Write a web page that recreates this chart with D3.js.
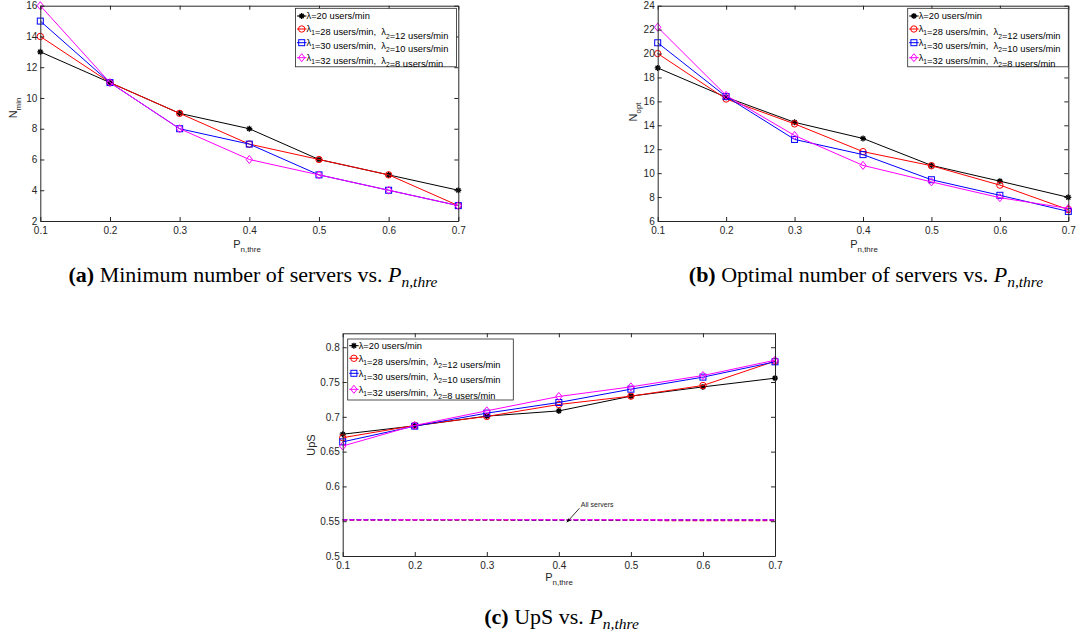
<!DOCTYPE html>
<html>
<head>
<meta charset="utf-8">
<script src="https://cdn.jsdelivr.net/npm/d3@7"></script>
<style>
  body { margin: 0; background: #fff; }
  text { white-space: pre; }
</style>
</head>
<body>
<script>
const pThre = [0.1, 0.2, 0.3, 0.4, 0.5, 0.6, 0.7];

const legendLabels = [
  'λ=20 users/min',
  'λ_1=28 users/min,  λ_2=12 users/min',
  'λ_1=30 users/min,  λ_2=10 users/min',
  'λ_1=32 users/min,  λ_2=8 users/min'
];
const colors = ['#000000', '#ff0000', '#0000ff', '#ff00ff'];
const markers = ['star', 'circle', 'square', 'diamond'];

// (a) minimum number of servers
const nMin20 = [13, 11, 9, 8, 6, 5, 4];
const nMin28 = [14, 11, 9, 7, 6, 5, 3];
const nMin30 = [15, 11, 8, 7, 5, 4, 3];
const nMin32 = [16, 11, 8, 6, 5, 4, 3];
const nMinTicks = [2, 4, 6, 8, 10, 12, 14, 16];

// (b) optimal number of servers
const nOpt20 = [18.8, 16.35, 14.25, 12.9, 10.65, 9.33, 7.98];
const nOpt28 = [20.0, 16.2, 14.12, 11.8, 10.62, 9.0, 6.95];
const nOpt30 = [20.9, 16.4, 12.82, 11.55, 9.45, 8.15, 6.8];
const nOpt32 = [22.2, 16.5, 13.15, 10.65, 9.27, 7.95, 7.05];
const nOptTicks = [6, 8, 10, 12, 14, 16, 18, 20, 22, 24];

// (c) UpS
const ups20 = [0.675, 0.687, 0.701, 0.7085, 0.7297, 0.743, 0.7555];
const ups28 = [0.670, 0.6876, 0.7005, 0.7177, 0.7297, 0.745, 0.780];
const ups30 = [0.664, 0.6866, 0.7053, 0.7206, 0.7397, 0.757, 0.779];
const ups32 = [0.658, 0.6876, 0.7086, 0.7292, 0.743, 0.7593, 0.7813];
// "All servers" reference levels
const upsAll20 = [0.552, 0.552, 0.552, 0.552, 0.552, 0.552, 0.552];
const upsAll28 = [0.5518, 0.5518, 0.5518, 0.5516, 0.5512, 0.5508, 0.5508];
const upsAll30 = [0.5523, 0.5523, 0.5522, 0.552, 0.552, 0.552, 0.552];
const upsAll32 = [0.5519, 0.5521, 0.5523, 0.5523, 0.5521, 0.552, 0.552];
const upsTicks = [0.5, 0.55, 0.6, 0.65, 0.7, 0.75, 0.8];

const width = 1085;
const height = 635;
const axisColor = '#262626';
const sans = 'Liberation Sans, Arial, sans-serif';

const svg = d3.select('body').append('svg')
  .attr('width', width)
  .attr('height', height);

// text with _x or _{xyz} subscripts
function richText(sel, str, size) {
  const re = /_\{([^}]*)\}|_(.)/g;
  let last = 0, m;
  const shift = size * 0.35;
  while ((m = re.exec(str)) !== null) {
    if (m.index > last) sel.append('tspan').text(str.slice(last, m.index));
    sel.append('tspan').attr('dy', shift).attr('font-size', size * 0.72).text(m[1] || m[2]);
    sel.append('tspan').attr('dy', -shift).text('');
    last = re.lastIndex;
  }
  if (last < str.length) sel.append('tspan').text(str.slice(last));
  return sel;
}

function drawMarker(g, type, color, cx, cy) {
  if (type === 'star') {
    const r = 3;
    let d = '';
    for (let k = 0; k < 4; k++) {
      const a = k * Math.PI / 4;
      d += `M${cx - r * Math.cos(a)},${cy - r * Math.sin(a)}L${cx + r * Math.cos(a)},${cy + r * Math.sin(a)}`;
    }
    g.append('path').attr('d', d).attr('stroke', color).attr('stroke-width', 1.3);
    g.append('circle').attr('cx', cx).attr('cy', cy).attr('r', 1.6).attr('fill', color);
  } else if (type === 'circle') {
    g.append('circle').attr('cx', cx).attr('cy', cy).attr('r', 3.2)
      .attr('fill', 'none').attr('stroke', color).attr('stroke-width', 1);
  } else if (type === 'square') {
    g.append('rect').attr('x', cx - 3).attr('y', cy - 3).attr('width', 6).attr('height', 6)
      .attr('fill', 'none').attr('stroke', color).attr('stroke-width', 1);
  } else {
    g.append('path').attr('d', `M${cx},${cy - 4}L${cx + 3.2},${cy}L${cx},${cy + 4}L${cx - 3.2},${cy}Z`)
      .attr('fill', 'none').attr('stroke', color).attr('stroke-width', 1);
  }
}

function drawPanel(p) {
  const x = d3.scaleLinear().domain([0.1, 0.7]).range([p.left, p.right]);
  const y = d3.scaleLinear().domain(p.yDomain).range([p.bottom, p.top]);
  const g = svg.append('g');

  const line = d3.line().x((d, i) => x(pThre[i])).y(d => y(d));

  // dashed reference lines (panel c)
  (p.dashed || []).forEach((vals, k) => {
    g.append('path')
      .attr('d', line(vals))
      .attr('fill', 'none')
      .attr('stroke', colors[k])
      .attr('stroke-width', 1.3)
      .attr('stroke-dasharray', '4.5,2.5');
  });

  p.series.forEach((vals, k) => {
    g.append('path')
      .attr('d', line(vals))
      .attr('fill', 'none')
      .attr('stroke', colors[k])
      .attr('stroke-width', 1);
    vals.forEach((v, i) => drawMarker(g, markers[k], colors[k], x(pThre[i]), y(v)));
  });

  // axes, MATLAB style box with inward ticks
  const fmt = p.fmt || (d => d);
  const axes = [
    [d3.axisBottom(x).tickValues(pThre).tickFormat(d => d).tickPadding(6), `translate(0,${p.bottom})`],
    [d3.axisTop(x).tickValues(pThre).tickFormat(''), `translate(0,${p.top})`],
    [d3.axisLeft(y).tickValues(p.yTicks).tickFormat(fmt).tickPadding(3), `translate(${p.left},0)`],
    [d3.axisRight(y).tickValues(p.yTicks).tickFormat(''), `translate(${p.right},0)`]
  ];
  axes.forEach(([ax, tr]) => {
    const a = g.append('g')
      .attr('transform', tr)
      .call(ax.tickSizeInner(-4).tickSizeOuter(0));
    a.select('.domain').attr('stroke', axisColor);
    a.selectAll('.tick line').attr('stroke', axisColor);
    a.selectAll('.tick text')
      .attr('fill', axisColor)
      .attr('font-family', sans)
      .attr('font-size', 10);
  });

  // axis titles
  richText(g.append('text')
    .attr('x', p.xLabel[0]).attr('y', p.xLabel[1])
    .attr('text-anchor', 'middle')
    .attr('font-family', sans)
    .attr('font-size', 11)
    .attr('fill', axisColor), 'P_{n,thre}', 11);

  richText(g.append('text')
    .attr('transform', `translate(${p.yLabel[0]},${p.yLabel[1]}) rotate(-90)`)
    .attr('text-anchor', 'middle')
    .attr('font-family', sans)
    .attr('font-size', 11)
    .attr('fill', axisColor), p.yTitle, 11);

  // legend
  const lg = g.append('g').attr('transform', `translate(${p.legend[0]},${p.legend[1]})`);
  lg.append('rect')
    .attr('width', p.legend[2]).attr('height', p.legend[3])
    .attr('fill', '#fff').attr('stroke', axisColor).attr('stroke-width', 0.8);
  legendLabels.forEach((lab, k) => {
    const cy = p.legendRows[k];
    lg.append('line').attr('x1', 1.5).attr('x2', 11).attr('y1', cy).attr('y2', cy)
      .attr('stroke', colors[k]).attr('stroke-width', 1);
    drawMarker(lg, markers[k], colors[k], 6.2, cy);
    richText(lg.append('text')
      .attr('x', 11).attr('y', cy + 3.2)
      .attr('font-family', sans)
      .attr('font-size', 9.3)
      .attr('fill', '#000'), lab, 9.3);
  });

  // caption
  const cap = g.append('text')
    .attr('x', p.caption[0]).attr('y', p.caption[1])
    .attr('text-anchor', 'middle')
    .attr('font-family', 'Liberation Serif, DejaVu Serif, serif')
    .attr('font-size', 22)
    .attr('fill', '#000');
  cap.append('tspan').attr('font-weight', 'bold').text(p.capLetter);
  cap.append('tspan').text(' ' + p.capText + ' ');
  cap.append('tspan').attr('font-style', 'italic').text('P');
  cap.append('tspan').attr('font-style', 'italic').attr('font-size', 15.5).attr('dy', 4.5).text('n,thre');

  return { x, y, g };
}

// (a)
drawPanel({
  left: 40.3, right: 458.3, top: 5.7, bottom: 221,
  yDomain: [2, 16], yTicks: nMinTicks,
  series: [nMin20, nMin28, nMin30, nMin32],
  xLabel: [247, 248], yLabel: [17, 108], yTitle: 'N_{min}',
  legend: [295.5, 8.3, 161, 58.5], legendRows: [7.7, 20.7, 34.4, 49.4],
  caption: [253, 282], capLetter: '(a)', capText: 'Minimum number of servers vs.'
});

// (b)
drawPanel({
  left: 657.7, right: 1068.3, top: 5.7, bottom: 221,
  yDomain: [6, 24], yTicks: nOptTicks,
  series: [nOpt20, nOpt28, nOpt30, nOpt32],
  xLabel: [864, 248], yLabel: [637, 112], yTitle: 'N_{opt}',
  legend: [907.7, 8.3, 160.6, 58.5], legendRows: [7.7, 20.7, 34.4, 49.4],
  caption: [866, 282], capLetter: '(b)', capText: 'Optimal number of servers vs.'
});

// (c)
const pc = drawPanel({
  left: 342.7, right: 775, top: 333.3, bottom: 556,
  yDomain: [0.5, 0.82], yTicks: upsTicks, fmt: d => d,
  series: [ups20, ups28, ups30, ups32],
  dashed: [upsAll20, upsAll28, upsAll30, upsAll32],
  xLabel: [559, 581], yLabel: [315, 445], yTitle: 'UpS',
  legend: [347.7, 339, 165.6, 61], legendRows: [6.7, 19.3, 34.3, 50.3],
  caption: [561.5, 624], capLetter: '(c)', capText: 'UpS vs.'
});

// "All servers" annotation
const tipX = pc.x(0.411), tipY = pc.y(0.5484);
const tailX = pc.x(0.4286), tailY = pc.y(0.5686);
const ang = Math.atan2(tipY - tailY, tipX - tailX);
pc.g.append('line')
  .attr('x1', tailX).attr('y1', tailY).attr('x2', tipX).attr('y2', tipY)
  .attr('stroke', '#000').attr('stroke-width', 0.8);
const ah = 4, aw = 1.8;
pc.g.append('path')
  .attr('d', `M${tipX},${tipY}` +
    `L${tipX - ah * Math.cos(ang) + aw * Math.sin(ang)},${tipY - ah * Math.sin(ang) - aw * Math.cos(ang)}` +
    `L${tipX - ah * Math.cos(ang) - aw * Math.sin(ang)},${tipY - ah * Math.sin(ang) + aw * Math.cos(ang)}Z`)
  .attr('fill', '#000');
pc.g.append('text')
  .attr('x', pc.x(0.4305)).attr('y', pc.y(0.5705))
  .attr('font-family', sans)
  .attr('font-size', 7)
  .attr('fill', '#262626')
  .text('All servers');
</script>
</body>
</html>
